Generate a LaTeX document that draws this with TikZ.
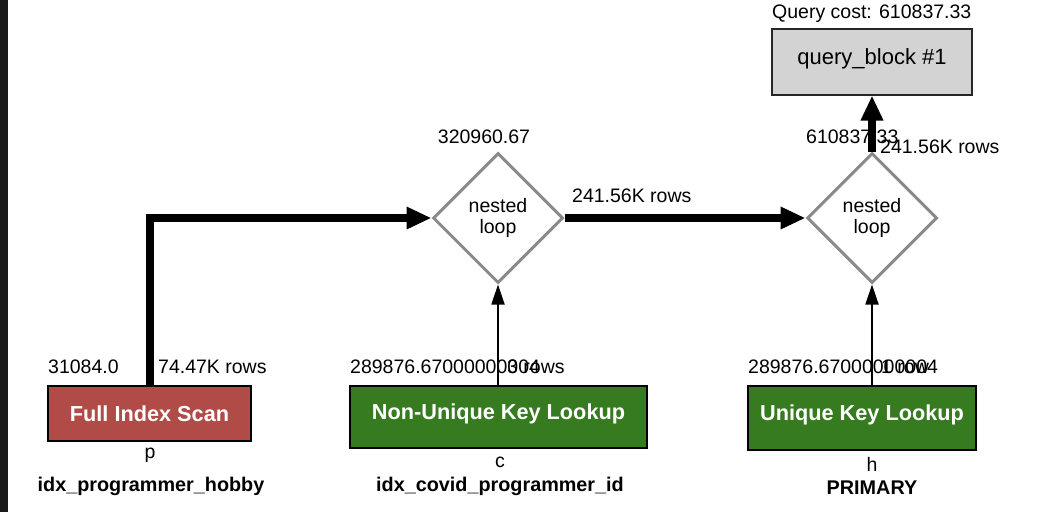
\documentclass[tikz,border=0pt]{standalone}
\usepackage{fontspec}
\setmainfont{Liberation Sans}
\usetikzlibrary{arrows.meta, positioning, shapes.geometric}
\definecolor{scanred}{HTML}{B14B48}
\definecolor{lookgreen}{HTML}{377B21}
\definecolor{blockgray}{HTML}{D3D3D3}
\definecolor{loopgray}{HTML}{8A8A8A}
\definecolor{sidebar}{HTML}{1A1A1A}

\begin{document}
\begin{tikzpicture}[x=1pt, y=-1pt,
    every node/.style={inner sep=0pt, font=\fontsize{19.5}{20}\selectfont},
    costlabel/.style={anchor=base west},
    keylabel/.style={anchor=base, font=\bfseries\fontsize{19.8}{22}\selectfont},
    aliaslabel/.style={anchor=base},
    opbox/.style={rectangle, draw=black, line width=2pt, text=white, font=\bfseries\fontsize{21.7}{24}\selectfont, text height=15.6pt, text depth=0pt},
    scanbox/.style={opbox, fill=scanred},
    lookbox/.style={opbox, fill=lookgreen, text depth=10.6pt},
    loopbox/.style={diamond, aspect=1, draw=loopgray, line width=3pt, fill=white, minimum width=130pt, minimum height=130pt, align=center, font=\fontsize{19.5}{21}\selectfont},
    blockbox/.style={rectangle, draw=black!85, line width=2pt, fill=blockgray, font=\fontsize{22}{24}\selectfont, text height=16pt, text depth=11pt},
    thickflow/.style={line width=8pt, -{Triangle[length=25pt, width=21pt]}},
    thinflow/.style={line width=1.8pt, -{Triangle[length=20pt, width=13pt]}},
]
\useasboundingbox (0,0) rectangle (1064,512);
\fill[white] (0,0) rectangle (1064,512);
\fill[sidebar] (0,0) rectangle (8,512);
% query block
\node[costlabel] (qcost) at (772,18) {Query cost: 610837.33};
\node[blockbox, minimum width=200pt, minimum height=66pt] (qblock) at (872,61.5) {query\_block \#1};
% joins
\node[loopbox] (nl1) at (498,218) {nested\\loop};
\node[loopbox] (nl2) at (872,218) {nested\\loop};
\node[anchor=base] (nlcost1) at (484,143) {320960.67};
\node[costlabel] (nlcost2) at (806,143) {610837.33};
\node[costlabel] (nlrows1) at (572,202) {241.56K rows};
\node[costlabel] (nlrows2) at (880,153) {241.56K rows};
% tables
\node[scanbox, minimum width=203pt, minimum height=55pt] (fis) at (149.5,413.5) {Full Index Scan};
\node[lookbox, minimum width=297pt, minimum height=62pt] (nukl) at (498.5,417) {Non-Unique Key Lookup};
\node[lookbox, minimum width=228pt, minimum height=64pt] (ukl) at (862,418) {Unique Key Lookup};
\node[costlabel] (fiscost) at (48,373) {31084.0};
\node[costlabel] (fisrows) at (158,373) {74.47K rows};
\node[costlabel] (nuklcost) at (350,373) {289876.67000000004};
\node[costlabel] (nuklrows) at (507,373) {3 rows};
\node[costlabel] (uklcost) at (748,373) {289876.67000000004};
\node[costlabel] (uklrows) at (881,373) {1 row};
\node[aliaslabel] (fisalias) at (150,458) {p};
\node[keylabel] (fiskey) at (151,491) {idx\_programmer\_hobby};
\node[aliaslabel] (nuklalias) at (500,467) {c};
\node[keylabel] (nuklkey) at (500,491) {idx\_covid\_programmer\_id};
\node[aliaslabel] (uklalias) at (872,471) {h};
\node[keylabel] (uklkey) at (872,494) {PRIMARY};
% flows
\draw[thickflow] (fis.north) |- (nl1.west);
\draw[thickflow] (nl1.east) -- (nl2.west);
\draw[thickflow] (nl2.north) -- (qblock.south);
\draw[thinflow] (nukl.north -| nl1.south) -- (nl1.south);
\draw[thinflow] (ukl.north -| nl2.south) -- (nl2.south);
\end{tikzpicture}
\end{document}
